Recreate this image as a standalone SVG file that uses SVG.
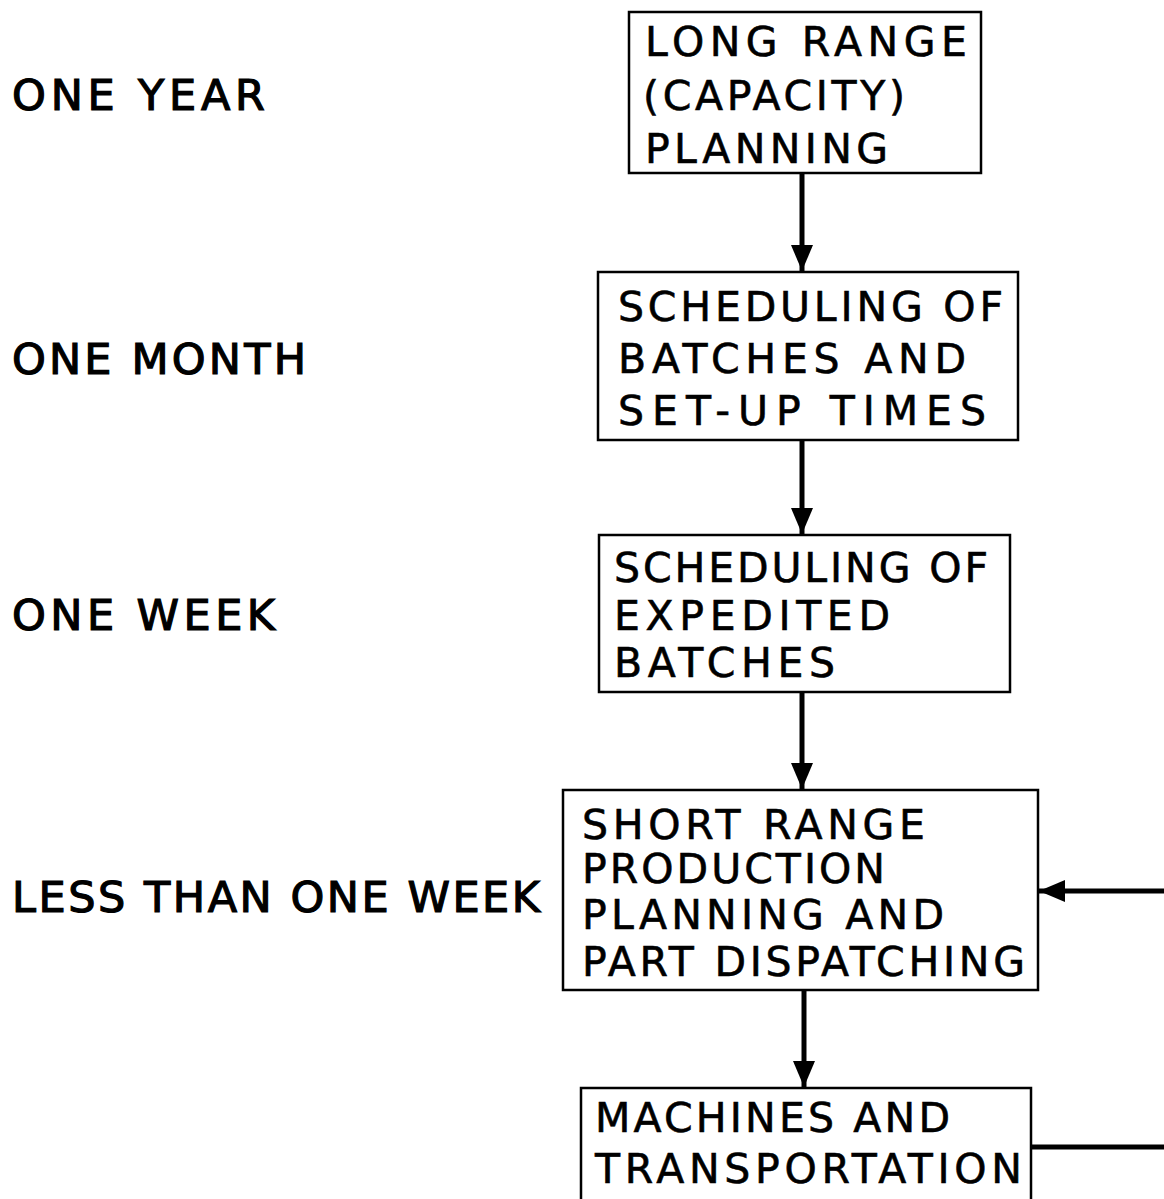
<svg xmlns="http://www.w3.org/2000/svg" width="1164" height="1199" viewBox="0 0 1164 1199">
<defs>
<marker id="ah" viewBox="0 0 26 22" refX="26" refY="11" markerWidth="26" markerHeight="22" markerUnits="userSpaceOnUse" orient="auto">
<path d="M0,0 L26,11 L0,22 z" fill="#000"/>
</marker>
<style>
.box{fill:#fff;stroke:#000;stroke-width:2.5}
.t{font-family:"DejaVu Sans","Liberation Sans",sans-serif;font-size:41px;fill:#000;stroke:#000;stroke-width:0.6}
.lbl{font-family:"DejaVu Sans","Liberation Sans",sans-serif;font-size:43px;fill:#000;stroke:#000;stroke-width:1.2}
.c{stroke:#000;stroke-width:5;fill:none}
</style>
</defs>
<rect width="1164" height="1199" fill="#fff"/>
<g id="labels">
<text class="lbl" x="12" y="110" textLength="253" lengthAdjust="spacing">ONE YEAR</text>
<text class="lbl" x="12" y="374" textLength="294" lengthAdjust="spacing">ONE MONTH</text>
<text class="lbl" x="12" y="630" textLength="263" lengthAdjust="spacing">ONE WEEK</text>
<text class="lbl" x="12" y="912" textLength="528" lengthAdjust="spacing">LESS THAN ONE WEEK</text>
</g>
<g id="connectors">
<line class="c" x1="802" y1="173" x2="802" y2="271" marker-end="url(#ah)"/>
<line class="c" x1="802" y1="440" x2="802" y2="534" marker-end="url(#ah)"/>
<line class="c" x1="802" y1="692" x2="802" y2="789" marker-end="url(#ah)"/>
<line class="c" x1="804" y1="990" x2="804" y2="1087" marker-end="url(#ah)"/>
<line class="c" x1="1164" y1="891" x2="1039" y2="891" marker-end="url(#ah)"/>
<line class="c" x1="1031" y1="1147" x2="1164" y2="1147"/>
</g>
<g id="n1">
<rect class="box" x="629" y="12" width="352" height="161"/>
<text class="t" x="645" y="56" textLength="322" lengthAdjust="spacing">LONG RANGE</text>
<text class="t" x="643" y="110" textLength="262" lengthAdjust="spacing">(CAPACITY)</text>
<text class="t" x="645" y="163" textLength="243" lengthAdjust="spacing">PLANNING</text>
</g>
<g id="n2">
<rect class="box" x="598" y="272" width="420" height="168"/>
<text class="t" x="618" y="321" textLength="385" lengthAdjust="spacing">SCHEDULING OF</text>
<text class="t" x="618" y="373" textLength="348" lengthAdjust="spacing">BATCHES AND</text>
<text class="t" x="618" y="425" textLength="368" lengthAdjust="spacing">SET-UP TIMES</text>
</g>
<g id="n3">
<rect class="box" x="599" y="535" width="411" height="157"/>
<text class="t" x="614" y="582" textLength="374" lengthAdjust="spacing">SCHEDULING OF</text>
<text class="t" x="614" y="630" textLength="276" lengthAdjust="spacing">EXPEDITED</text>
<text class="t" x="614" y="677" textLength="221" lengthAdjust="spacing">BATCHES</text>
</g>
<g id="n4">
<rect class="box" x="563" y="790" width="475" height="200"/>
<text class="t" x="582" y="839" textLength="343" lengthAdjust="spacing">SHORT RANGE</text>
<text class="t" x="582" y="883" textLength="303" lengthAdjust="spacing">PRODUCTION</text>
<text class="t" x="582" y="929" textLength="362" lengthAdjust="spacing">PLANNING AND</text>
<text class="t" x="582" y="976" textLength="443" lengthAdjust="spacing">PART DISPATCHING</text>
</g>
<g id="n5">
<rect class="box" x="581" y="1088" width="450" height="130"/>
<text class="t" x="595" y="1132" textLength="355" lengthAdjust="spacing">MACHINES AND</text>
<text class="t" x="595" y="1183" textLength="427" lengthAdjust="spacing">TRANSPORTATION</text>
</g>
</svg>
